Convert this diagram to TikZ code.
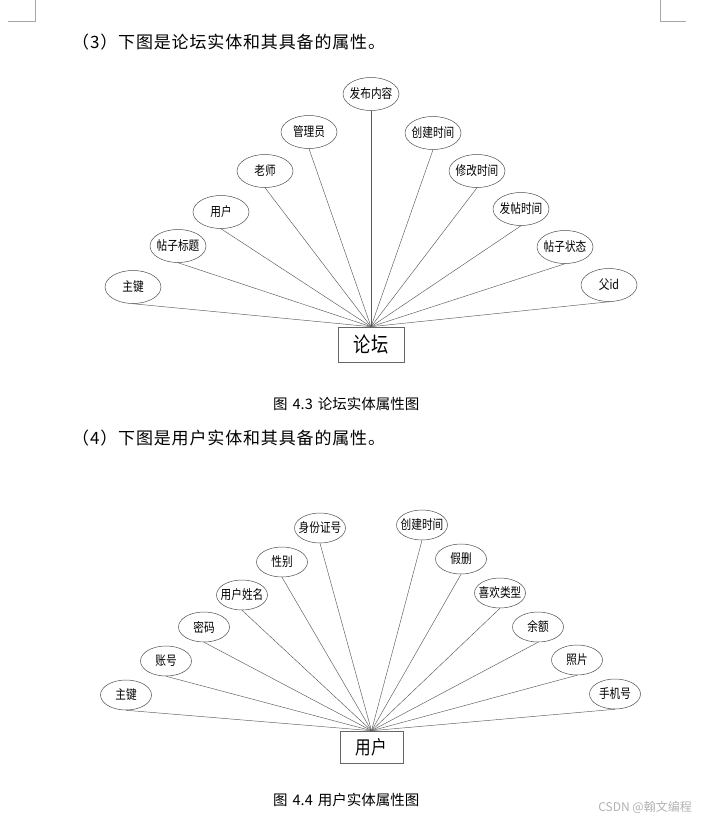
\documentclass[tikz,border=0pt]{standalone}
\usepackage{fontspec}
\setmainfont{Noto Sans CJK SC}
\newfontfamily\narrowcjk[FakeStretch=0.82]{Noto Sans CJK SC}
\newfontfamily\bodycjk[LetterSpace=5]{Noto Sans CJK SC}
\usetikzlibrary{shapes.geometric}
\begin{document}
\begin{tikzpicture}[x=1pt, y=-1pt,
    attr/.style={ellipse, draw=black!70, line width=0.5pt, inner xsep=-8pt, inner ysep=0pt,
        minimum width=56pt, minimum height=33pt, font=\narrowcjk\fontsize{13}{13}\selectfont},
    smallattr/.style={attr, minimum width=51pt, minimum height=30pt},
    entity/.style={rectangle, draw=black!60, line width=0.6pt, inner sep=0pt,
        minimum width=66pt, minimum height=35pt, font=\narrowcjk\fontsize{21}{22}\selectfont},
    link/.style={draw=black!65, line width=0.45pt},
    para/.style={anchor=west, inner sep=0pt, font=\bodycjk\fontsize{17}{18}\selectfont},
    caption/.style={anchor=west, inner sep=0pt, font=\fontsize{14.5}{15}\selectfont}]
    \useasboundingbox (0,0) rectangle (703,819);

    % page corner marks
    \draw[black!35, line width=0.5pt] (8,21) -- (35,21) -- (35,0);
    \draw[black!35, line width=0.5pt] (660,0) -- (660,21) -- (686,21);

    \node[para] (p3) at (72,42) {（3）下图是论坛实体和其具备的属性。};

    % forum entity
    \node[entity] (lt) at (371,344.5) {论坛};
    \node[attr] (lt1)  at (133,287) {主键};
    \node[attr] (lt2)  at (178,246) {帖子标题};
    \node[attr] (lt3)  at (221,212) {用户};
    \node[attr] (lt4)  at (265,171) {老师};
    \node[attr] (lt5)  at (309,132) {管理员};
    \node[attr] (lt6)  at (371,94)  {发布内容};
    \node[attr] (lt7)  at (433,133) {创建时间};
    \node[attr] (lt8)  at (477,171) {修改时间};
    \node[attr] (lt9)  at (521,209) {发帖时间};
    \node[attr] (lt10) at (565,247) {帖子状态};
    \node[attr] (lt11) at (609,285) {父id};

    \draw[link] (lt1.south) -- (lt.north);
    \draw[link] (lt2.south) -- (lt.north);
    \draw[link] (lt3.south) -- (lt.north);
    \draw[link] (lt4.south) -- (lt.north);
    \draw[link] (lt5.south) -- (lt.north);
    \draw[link] (lt6.south) -- (lt.north);
    \draw[link] (lt7.south) -- (lt.north);
    \draw[link] (lt8.south) -- (lt.north);
    \draw[link] (lt9.south) -- (lt.north);
    \draw[link] (lt10.south) -- (lt.north);
    \draw[link] (lt11.south) -- (lt.north);

    \node[caption] (c3) at (273,404) {图\hspace{5pt}4.3\hspace{5pt}论坛实体属性图};

    \node[para] (p4) at (72,438) {（4）下图是用户实体和其具备的属性。};

    % user entity
    \node[entity, minimum width=63pt, minimum height=32pt, font=\narrowcjk\fontsize{19}{20}\selectfont] (yh) at (371.5,747) {用户};
    \node[smallattr] (yh1)  at (126,695) {主键};
    \node[smallattr] (yh2)  at (166,661) {账号};
    \node[smallattr] (yh3)  at (204,627) {密码};
    \node[smallattr] (yh4)  at (242,595) {用户姓名};
    \node[smallattr] (yh5)  at (282,562) {性别};
    \node[smallattr] (yh6)  at (320,528) {身份证号};
    \node[smallattr] (yh7)  at (422,525) {创建时间};
    \node[smallattr] (yh8)  at (461,559) {假删};
    \node[smallattr] (yh9)  at (500,593) {喜欢类型};
    \node[smallattr] (yh10) at (538,627) {余额};
    \node[smallattr] (yh11) at (577,660) {照片};
    \node[smallattr] (yh12) at (615,694) {手机号};

    \draw[link] (yh1.south) -- (yh.north);
    \draw[link] (yh2.south) -- (yh.north);
    \draw[link] (yh3.south) -- (yh.north);
    \draw[link] (yh4.south) -- (yh.north);
    \draw[link] (yh5.south) -- (yh.north);
    \draw[link] (yh6.south) -- (yh.north);
    \draw[link] (yh7.south) -- (yh.north);
    \draw[link] (yh8.south) -- (yh.north);
    \draw[link] (yh9.south) -- (yh.north);
    \draw[link] (yh10.south) -- (yh.north);
    \draw[link] (yh11.south) -- (yh.north);
    \draw[link] (yh12.south) -- (yh.north);

    \node[caption] (c4) at (273,800) {图\hspace{5pt}4.4\hspace{5pt}用户实体属性图};
    \node[anchor=east, inner sep=0pt, text=black!30, font=\fontsize{12}{12}\selectfont] (wm) at (692,807) {CSDN @翰文编程};

    \end{tikzpicture}
\end{document}
